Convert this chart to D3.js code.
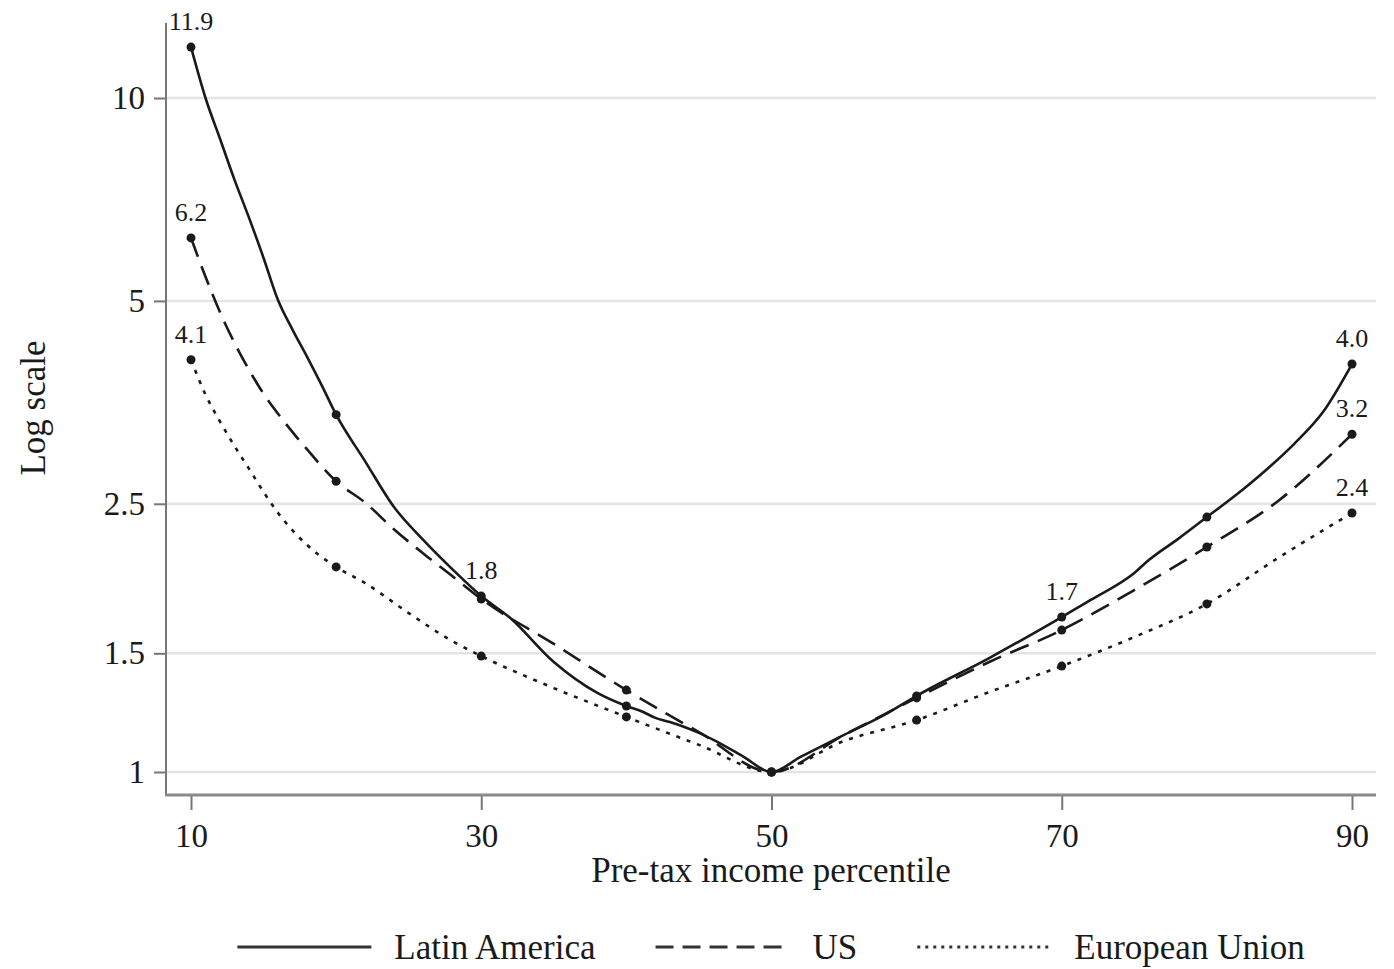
<!DOCTYPE html>
<html>
<head>
<meta charset="utf-8">
<script src="https://cdn.jsdelivr.net/npm/d3@7"></script>
<style>
  body { margin: 0; background: #fff; }
  text { font-family: "Liberation Serif", "Times New Roman", serif; fill: #1a1a1a; }
</style>
</head>
<body>
<div id="chart"></div>
<script>
// income at each percentile relative to the median
const latamPct = [10, 11, 12, 13, 14, 15, 16, 17, 18, 19, 20, 22, 24, 26, 28, 30, 32, 35, 38, 40,
  41, 42, 43, 44, 45, 46, 48, 50, 52, 55, 58, 60, 65, 70, 72, 75, 76, 78, 80, 82, 84, 86, 88, 90];
const latamVal = [11.9, 10.0, 8.70, 7.56, 6.64, 5.79, 5.01, 4.53, 4.13, 3.75, 3.39, 2.89, 2.47, 2.21, 2.00, 1.824, 1.692, 1.456, 1.31, 1.253,
  1.232, 1.203, 1.186, 1.166, 1.143, 1.116, 1.056, 1.0, 1.053, 1.135, 1.223, 1.297, 1.476, 1.698, 1.80, 1.974, 2.063, 2.216, 2.389, 2.576, 2.797, 3.066, 3.42, 4.03];

const usPct = [10, 11, 12, 13, 14, 15, 16, 18, 20, 22, 24, 26, 28, 30, 35, 40, 45, 50, 55, 60, 65, 70, 75, 80, 85, 90];
const usVal = [6.2, 5.43, 4.81, 4.33, 3.95, 3.64, 3.40, 3.01, 2.70, 2.51, 2.29, 2.11, 1.953, 1.806, 1.549, 1.323, 1.146, 1.0,
  1.135, 1.288, 1.456, 1.624, 1.862, 2.157, 2.533, 3.17];

const euPct = [10, 11, 12, 13, 14, 15, 16, 18, 20, 22, 25, 28, 30, 35, 40, 45, 50, 55, 60, 65, 70, 75, 80, 85, 90];
const euVal = [4.09, 3.63, 3.31, 3.045, 2.817, 2.603, 2.423, 2.172, 2.015, 1.907, 1.721, 1.564, 1.486, 1.332, 1.207, 1.097, 1.0,
  1.112, 1.194, 1.314, 1.436, 1.586, 1.776, 2.084, 2.423];

const seriesNames = ["Latin America", "US", "European Union"];
const labelledPct = [[10, 30, 70, 90], [10, 90], [10, 90]];

const yTicks = [1, 1.5, 2.5, 5, 10];
const xTicks = [10, 30, 50, 70, 90];

const width = 1394, height = 969;
const plot = {left: 166, right: 1376, top: 23, bottom: 795};

const svg = d3.select("#chart")
  .append("svg")
    .attr("width", width)
    .attr("height", height);

const x = d3.scaleLinear().domain([10, 90]).range([191, 1352]);
const y = d3.scaleLog().domain([1, 10]).range([772, 98]);

const dashes = ["none", "20,10", "4,7"];
const series = [
  {name: seriesNames[0], pct: latamPct, val: latamVal},
  {name: seriesNames[1], pct: usPct, val: usVal},
  {name: seriesNames[2], pct: euPct, val: euVal}
].map((s, i) => ({
  ...s,
  dash: dashes[i],
  labels: labelledPct[i],
  points: s.pct.map((p, j) => ({p: p, v: s.val[j]}))
}));

// gridlines
svg.append("g")
  .selectAll("line")
  .data(yTicks)
  .enter().append("line")
    .attr("x1", plot.left)
    .attr("x2", plot.right)
    .attr("y1", d => y(d))
    .attr("y2", d => y(d))
    .attr("stroke", "#e4e4e4")
    .attr("stroke-width", 2.5);

// axes
const yAxis = svg.append("g")
  .attr("transform", "translate(" + plot.left + ",0)")
  .call(d3.axisLeft(y).tickValues(yTicks).tickFormat(d => String(d)).tickSize(12).tickPadding(9));
yAxis.select(".domain").remove();
yAxis.selectAll("line").attr("stroke", "#777").attr("stroke-width", 2);
yAxis.selectAll("text").attr("font-size", 33).attr("font-family", null).attr("fill", "#1a1a1a");

const xAxis = svg.append("g")
  .attr("transform", "translate(0," + plot.bottom + ")")
  .call(d3.axisBottom(x).tickValues(xTicks).tickFormat(d => String(d)).tickSize(15).tickPadding(14));
xAxis.select(".domain").remove();
xAxis.selectAll("line").attr("stroke", "#777").attr("stroke-width", 2);
xAxis.selectAll("text").attr("font-size", 33).attr("font-family", null).attr("fill", "#1a1a1a");

svg.append("line")
  .attr("x1", plot.left).attr("x2", plot.left)
  .attr("y1", plot.top).attr("y2", plot.bottom)
  .attr("stroke", "#777").attr("stroke-width", 2);
svg.append("line")
  .attr("x1", plot.left - 1).attr("x2", plot.right)
  .attr("y1", plot.bottom).attr("y2", plot.bottom)
  .attr("stroke", "#8a8a8a").attr("stroke-width", 3);

// axis titles
svg.append("text")
  .attr("x", (plot.left + plot.right) / 2)
  .attr("y", 882)
  .attr("text-anchor", "middle")
  .attr("font-size", 35)
  .text("Pre-tax income percentile");

svg.append("text")
  .attr("transform", "translate(45,408) rotate(-90)")
  .attr("text-anchor", "middle")
  .attr("font-size", 35)
  .text("Log scale");

// lines
const line = d3.line()
  .x(d => x(d.p))
  .y(d => y(d.v))
  .curve(d3.curveMonotoneX);

svg.append("g")
  .selectAll("path")
  .data(series)
  .enter().append("path")
    .attr("d", d => line(d.points))
    .attr("fill", "none")
    .attr("stroke", "#1a1a1a")
    .attr("stroke-width", 2.6)
    .attr("stroke-dasharray", d => d.dash);

// markers every 10th percentile
series.forEach(s => {
  svg.append("g")
    .selectAll("circle")
    .data(s.points.filter(d => d.p % 10 === 0))
    .enter().append("circle")
      .attr("cx", d => x(d.p))
      .attr("cy", d => y(d.v))
      .attr("r", 4.5)
      .attr("fill", "#1a1a1a");

  svg.append("g")
    .selectAll("text")
    .data(s.points.filter(d => s.labels.includes(d.p)))
    .enter().append("text")
      .attr("x", d => x(d.p))
      .attr("y", d => y(d.v) - 17)
      .attr("text-anchor", "middle")
      .attr("font-size", 26)
      .attr("fill", "#333")
      .text(d => d3.format(".1f")(d.v));
});

// legend
const legend = svg.append("g");
const lineLen = 134, textGap = 23, itemGap = 60;
const items = series.map(s => {
  const g = legend.append("g");
  g.append("line")
    .attr("x1", 0).attr("x2", lineLen)
    .attr("y1", 947).attr("y2", 947)
    .attr("stroke", "#333")
    .attr("stroke-width", 3)
    .attr("stroke-dasharray", s.dash === "none" ? null : (s.dash === "20,10" ? "18,9" : "3,5"));
  const t = g.append("text")
    .attr("x", lineLen + textGap)
    .attr("y", 959)
    .attr("font-size", 35)
    .text(s.name);
  return {g: g, w: lineLen + textGap + t.node().getComputedTextLength()};
});
const total = d3.sum(items, d => d.w) + itemGap * (items.length - 1);
let cx = (plot.left + plot.right) / 2 - total / 2;
items.forEach(it => {
  it.g.attr("transform", "translate(" + cx + ",0)");
  cx += it.w + itemGap;
});
</script>
</body>
</html>
